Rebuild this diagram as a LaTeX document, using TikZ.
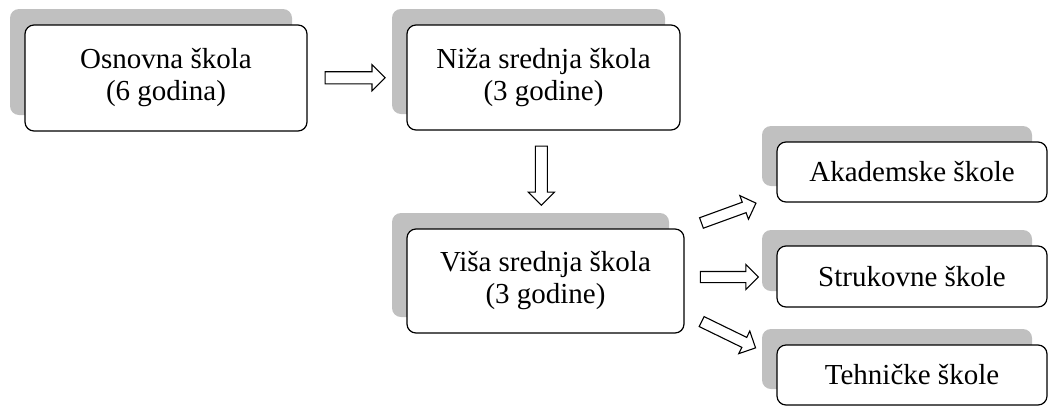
\documentclass[tikz,border=0pt]{standalone}
\usepackage{fontspec}
\setmainfont{Liberation Serif}
\usetikzlibrary{shadows,shapes.arrows,calc}
\definecolor{shadowgray}{HTML}{C0C0C0}
\tikzset{
  box/.style={draw=black, line width=1.2pt, fill=white, rounded corners=9pt,
    align=center, inner sep=0pt, font=\fontsize{29}{32}\selectfont,
    general shadow={fill=shadowgray, shadow xshift=-15pt, shadow yshift=16pt}},
  blockarrow/.style={single arrow, draw=black, fill=white, line width=1.1pt,
    inner xsep=0pt, inner ysep=5.5pt, minimum width=0pt, minimum height=60pt,
    single arrow head extend=7pt}
}
\begin{document}
\begin{tikzpicture}[x=1pt,y=-1pt]
\useasboundingbox (0,0) rectangle (1049,405);
\node[box, minimum width=282pt, minimum height=106pt] (o) at (166,78) {Osnovna škola\\(6 godina)};
\node[box, minimum width=273pt, minimum height=105pt] (n) at (543.5,77.5) {Niža srednja škola\\(3 godine)};
\node[box, minimum width=277pt, minimum height=104pt] (v) at (545.5,281) {Viša srednja škola\\(3 godine)};
\node[box, minimum width=270pt, minimum height=60pt] (a) at (912,172) {Akademske škole};
\node[box, minimum width=270pt, minimum height=61pt] (s) at (912,276.5) {Strukovne škole};
\node[box, minimum width=270pt, minimum height=60pt] (t) at (912,375) {Tehničke škole};
\node[blockarrow] (ar1) at ($(o.east)!0.45!(n.west)$) {};
\node[blockarrow, rotate=-90, minimum height=59pt] (ar2) at ($(n.south)!0.43!(v.north)+(-3,0)$) {};
\node[blockarrow, rotate=20, minimum height=58pt, inner ysep=5pt] (ar3) at ($(v.east)+(41.5,-67)$) {};
\node[blockarrow, minimum height=58pt, inner ysep=5pt] (ar4) at ($(v.east)+(42,-4)$) {};
\node[blockarrow, rotate=-26, minimum height=60pt, inner ysep=5pt] (ar5) at ($(v.east)+(41.5,52.5)$) {};
\end{tikzpicture}
\end{document}
